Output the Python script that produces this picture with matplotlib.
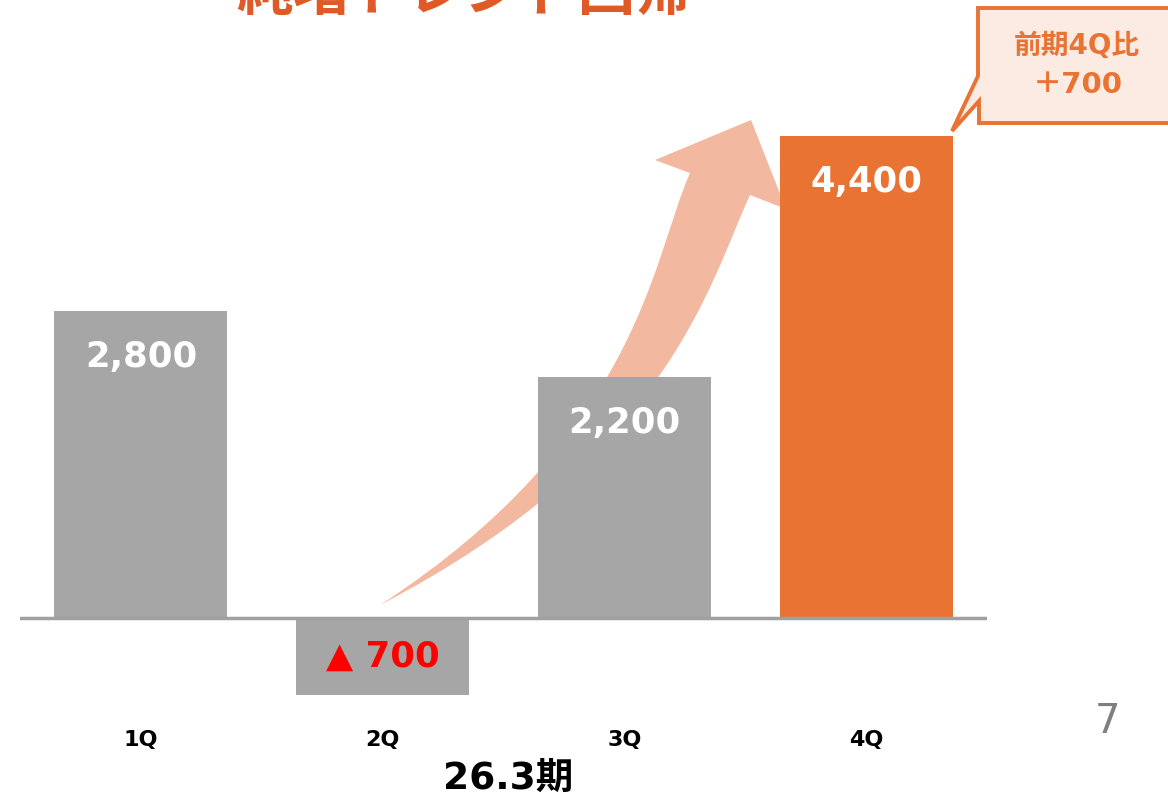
import matplotlib
matplotlib.use("Agg")
import matplotlib.pyplot as plt
from matplotlib.path import Path
from matplotlib.patches import PathPatch, Polygon
import matplotlib.transforms as mtransforms

# ---- data ----
categories = ["1Q", "2Q", "3Q", "4Q"]
values = [2800, -700, 2200, 4400]
bar_colors = ["#A6A6A6", "#A6A6A6", "#A6A6A6", "#E87333"]
title = "純増トレンド回帰"
period_label = "26.3期"
callout_lines = ["前期4Q比", "＋700"]
page_number = "7"

W, H = 1168, 799
fig = plt.figure(figsize=(W / 100, H / 100), dpi=100)
fig.patch.set_facecolor("white")

# axes placed in pixel layout
ax_left, ax_right, ax_top, ax_bottom = 20, 987, 100, 700
ax = fig.add_axes([ax_left / W, 1 - ax_bottom / H, (ax_right - ax_left) / W, (ax_bottom - ax_top) / H])
upp = 9.124  # units per pixel
ax.set_xlim(-0.5, 3.5)
ax.set_ylim(-(ax_bottom - 618) * upp, (618 - ax_top) * upp)
ax.axis("off")

FAM = ["DejaVu Sans", "Noto Sans CJK JP"]

x = list(range(len(categories)))
ax.bar(x, values, width=0.716, color=bar_colors, zorder=3)
ax.axhline(0, color="#A0A0A0", lw=2.5, zorder=4)

for xi, v in zip(x, values):
    if v >= 0:
        ax.annotate(f"{v:,}", (xi, v), xytext=(0, -33), textcoords="offset points",
                    ha="center", va="center", color="white", fontsize=25.5,
                    fontweight="bold", family=FAM, zorder=5)
    else:
        ax.text(xi, v / 2, f"▲ {abs(v):,}", ha="center", va="center", color="#FF0000",
                fontsize=25.5, fontweight="bold", family=FAM, zorder=5)

for xi, c in zip(x, categories):
    ax.text(xi, (618 - 740) * upp, c, ha="center", va="center", fontsize=16,
            fontweight="bold", family=FAM, color="black", clip_on=False)

# pixel (top-left origin) -> display transform
pix = mtransforms.Affine2D().scale(1, -1).translate(0, H)

# curved arrow (decoration), drawn behind bars
verts = [
    (380, 605),
    (640, 436), (653, 255), (690, 173),
    (655, 160), (751, 120), (786, 209), (750, 195),
    (708, 286), (670, 454), (380, 605),
    (380, 605),
]
codes = [Path.MOVETO,
         Path.CURVE4, Path.CURVE4, Path.CURVE4,
         Path.LINETO, Path.LINETO, Path.LINETO, Path.LINETO,
         Path.CURVE4, Path.CURVE4, Path.CURVE4,
         Path.CLOSEPOLY]
arrow = PathPatch(Path(verts, codes), facecolor="#F2B9A0", edgecolor="none",
                  transform=pix, zorder=1, clip_on=False)
ax.add_patch(arrow)

# callout box
callout = Polygon([(978, 8), (1185, 8), (1185, 123), (979, 123), (979, 101),
                   (952, 131), (978, 76)], closed=True, facecolor="#FBEBE2",
                  edgecolor="#E87333", lw=2.8, transform=pix, clip_on=False, zorder=6)
fig.add_artist(callout)
fig.text(1077 / W, 1 - 46 / H, callout_lines[0], ha="center", va="center", fontsize=20,
         fontweight="bold", color="#E87333", family=FAM, zorder=7)
fig.text(1078 / W, 1 - 85 / H, callout_lines[1], ha="center", va="center", fontsize=21,
         fontweight="bold", color="#E87333", family=FAM, zorder=7)

# title (cut off at top, as in the reference)
fig.text(464 / W, 1 - 10 / H, title, ha="center", va="baseline", fontsize=41,
         fontweight="bold", color="#E05A28", family=["Noto Sans CJK JP"])

fig.text(508 / W, 1 - 780 / H, period_label, ha="center", va="center", fontsize=27,
         fontweight="bold", color="black", family=FAM)
fig.text(1108 / W, 1 - 722 / H, page_number, ha="center", va="center", fontsize=29,
         color="#7F7F7F", family=FAM)

fig.savefig("out.png", dpi=100)
